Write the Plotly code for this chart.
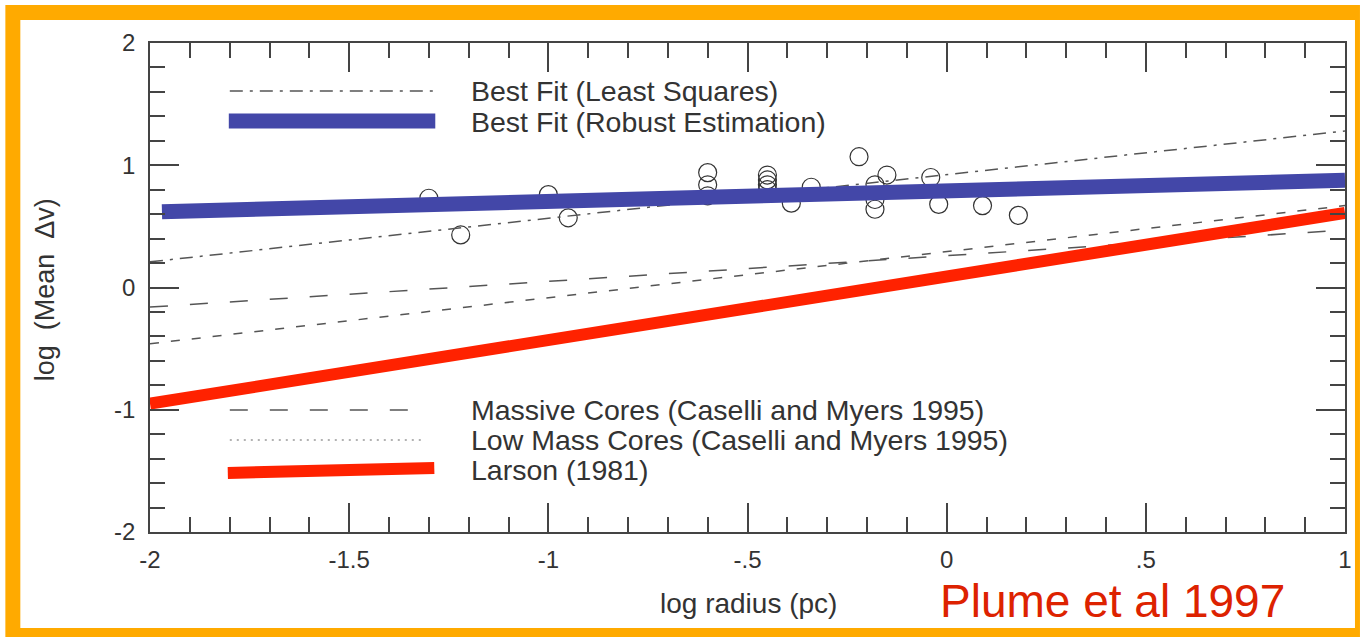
import plotly.graph_objects as go

# ---------------- data ----------------
obs_x = [-1.30, -1.22, -1.00, -0.95, -0.60, -0.60, -0.60, -0.45, -0.45, -0.45, -0.45,
         -0.39, -0.34, -0.22, -0.18, -0.18, -0.18, -0.15, -0.04, -0.02, 0.09, 0.18]
obs_y = [0.73, 0.43, 0.76, 0.57, 0.94, 0.84, 0.75, 0.92, 0.88, 0.84, 0.80,
         0.69, 0.82, 1.07, 0.84, 0.72, 0.64, 0.92, 0.90, 0.68, 0.67, 0.59]

fit_x = [-2.0, 1.0]
least_squares_y = [0.21, 1.28]
robust_x = [-1.97, 1.0]
robust_y = [0.62, 0.877]
massive_y = [-0.16, 0.47]
lowmass_y = [-0.46, 0.67]
larson_y = [-0.95, 0.61]

x_tickvals = [-2, -1.5, -1, -0.5, 0, 0.5, 1]
x_ticktext = ["-2", "-1.5", "-1", "-.5", "0", ".5", "1"]
y_tickvals = [-2, -1, 0, 1, 2]
y_ticktext = ["-2", "-1", "0", "1", "2"]

legend_top = ["Best Fit (Least Squares)", "Best Fit (Robust Estimation)"]
legend_bottom = ["Massive Cores (Caselli and Myers 1995)",
                 "Low Mass Cores (Caselli and Myers 1995)", "Larson (1981)"]

# ---------------- layout geometry (pixels) ----------------
W, H = 1364, 637
PL, PR, PT, PB = 150, 1348, 43, 532   # plot area edges in px
pw, ph = PR - PL, PB - PT


def px(x):
    return (x - PL) / pw


def py(y):
    return (PB - y) / ph


BLUE = "#4347A8"
RED = "#FF2200"
GRAY = "#555555"
AXIS = "#444444"
ORANGE = "#FFAA00"
FONT = "Liberation Sans, Arial, Helvetica, sans-serif"

fig = go.Figure()

fig.add_trace(go.Scatter(x=obs_x, y=obs_y, mode="markers",
                         marker=dict(symbol="circle-open", size=18, color="#333333",
                                     line=dict(color="#333333", width=1.2)),
                         showlegend=False, hoverinfo="skip"))
fig.add_trace(go.Scatter(x=fit_x, y=least_squares_y, mode="lines",
                         line=dict(color=GRAY, width=1.5, dash="13px,7px,3px,7px"),
                         showlegend=False))
fig.add_trace(go.Scatter(x=fit_x, y=massive_y, mode="lines",
                         line=dict(color=GRAY, width=1.5, dash="18px,22px"),
                         showlegend=False))
fig.add_trace(go.Scatter(x=fit_x, y=lowmass_y, mode="lines",
                         line=dict(color=GRAY, width=1.5, dash="9px,12px"),
                         showlegend=False))
fig.add_trace(go.Scatter(x=robust_x, y=robust_y, mode="lines",
                         line=dict(color=BLUE, width=15), showlegend=False))
fig.add_trace(go.Scatter(x=fit_x, y=larson_y, mode="lines",
                         line=dict(color=RED, width=12), showlegend=False))

shapes = [
    # orange frame
    dict(type="rect", xref="paper", yref="paper", layer="below",
         x0=px(5), x1=px(1363), y0=py(637), y1=py(5),
         fillcolor=ORANGE, line=dict(width=0)),
    dict(type="rect", xref="paper", yref="paper", layer="below",
         x0=px(20), x1=px(1358), y0=py(628), y1=py(20),
         fillcolor="white", line=dict(width=0)),
    # legend samples
    dict(type="line", xref="paper", yref="paper", x0=px(230), x1=px(435),
         y0=py(91), y1=py(91),
         line=dict(color=GRAY, width=1.5, dash="13px,7px,3px,7px")),
    dict(type="line", xref="paper", yref="paper", x0=px(229), x1=px(436),
         y0=py(121), y1=py(121), line=dict(color=BLUE, width=15)),
    dict(type="line", xref="paper", yref="paper", x0=px(230), x1=px(420),
         y0=py(410), y1=py(410),
         line=dict(color=GRAY, width=1.5, dash="18px,22px")),
    dict(type="line", xref="paper", yref="paper", x0=px(230), x1=px(425),
         y0=py(440), y1=py(440),
         line=dict(color="#999999", width=1.5, dash="2px,5px")),
    dict(type="line", xref="paper", yref="paper", x0=px(228), x1=px(435),
         y0=py(473), y1=py(468), line=dict(color=RED, width=12)),
]

annotations = []
for txt, yy in zip(legend_top + legend_bottom, [91, 122, 410, 440, 470]):
    annotations.append(dict(text=txt, xref="paper", yref="paper", x=px(470), y=py(yy),
                            xanchor="left", yanchor="middle", showarrow=False,
                            font=dict(family=FONT, size=28.5, color="#333333")))
annotations.append(dict(text="Plume et al 1997", xref="paper", yref="paper",
                        x=px(1115), y=py(601), xanchor="center", yanchor="middle",
                        showarrow=False,
                        font=dict(family=FONT, size=46, color="#DD2200")))
annotations.append(dict(text="log radius (pc)", xref="paper", yref="paper",
                        x=px(750), y=py(603), xanchor="center", yanchor="middle",
                        showarrow=False,
                        font=dict(family=FONT, size=28, color="#333333")))
annotations.append(dict(text="log\u00a0 (Mean\u00a0 \u0394v)", xref="paper", yref="paper",
                        x=px(45), y=py(290), xanchor="center", yanchor="middle",
                        textangle=-90, showarrow=False,
                        font=dict(family=FONT, size=27, color="#333333")))

axis_common = dict(showline=True, linecolor=AXIS, linewidth=1.5, mirror="ticks",
                   ticks="inside", ticklen=29, tickwidth=1.5, tickcolor=AXIS,
                   showgrid=False, zeroline=False,
                   tickfont=dict(family=FONT, size=24, color="#333333"))

fig.update_layout(
    width=W, height=H,
    margin=dict(l=PL, r=W - PR, t=PT, b=H - PB),
    paper_bgcolor="white", plot_bgcolor="white",
    xaxis=dict(range=[-2, 1], tickvals=x_tickvals, ticktext=x_ticktext,
               ticklabelstandoff=5,
               minor=dict(ticks="inside", ticklen=15, dtick=0.1, tickwidth=1.5,
                          tickcolor=AXIS),
               **axis_common),
    yaxis=dict(range=[-2, 2], tickvals=y_tickvals, ticktext=y_ticktext,
               ticklabelstandoff=8,
               minor=dict(ticks="inside", ticklen=15, dtick=0.2, tickwidth=1.5,
                          tickcolor=AXIS),
               **axis_common),
    shapes=shapes, annotations=annotations, showlegend=False,
)

fig.write_html("out.html")
